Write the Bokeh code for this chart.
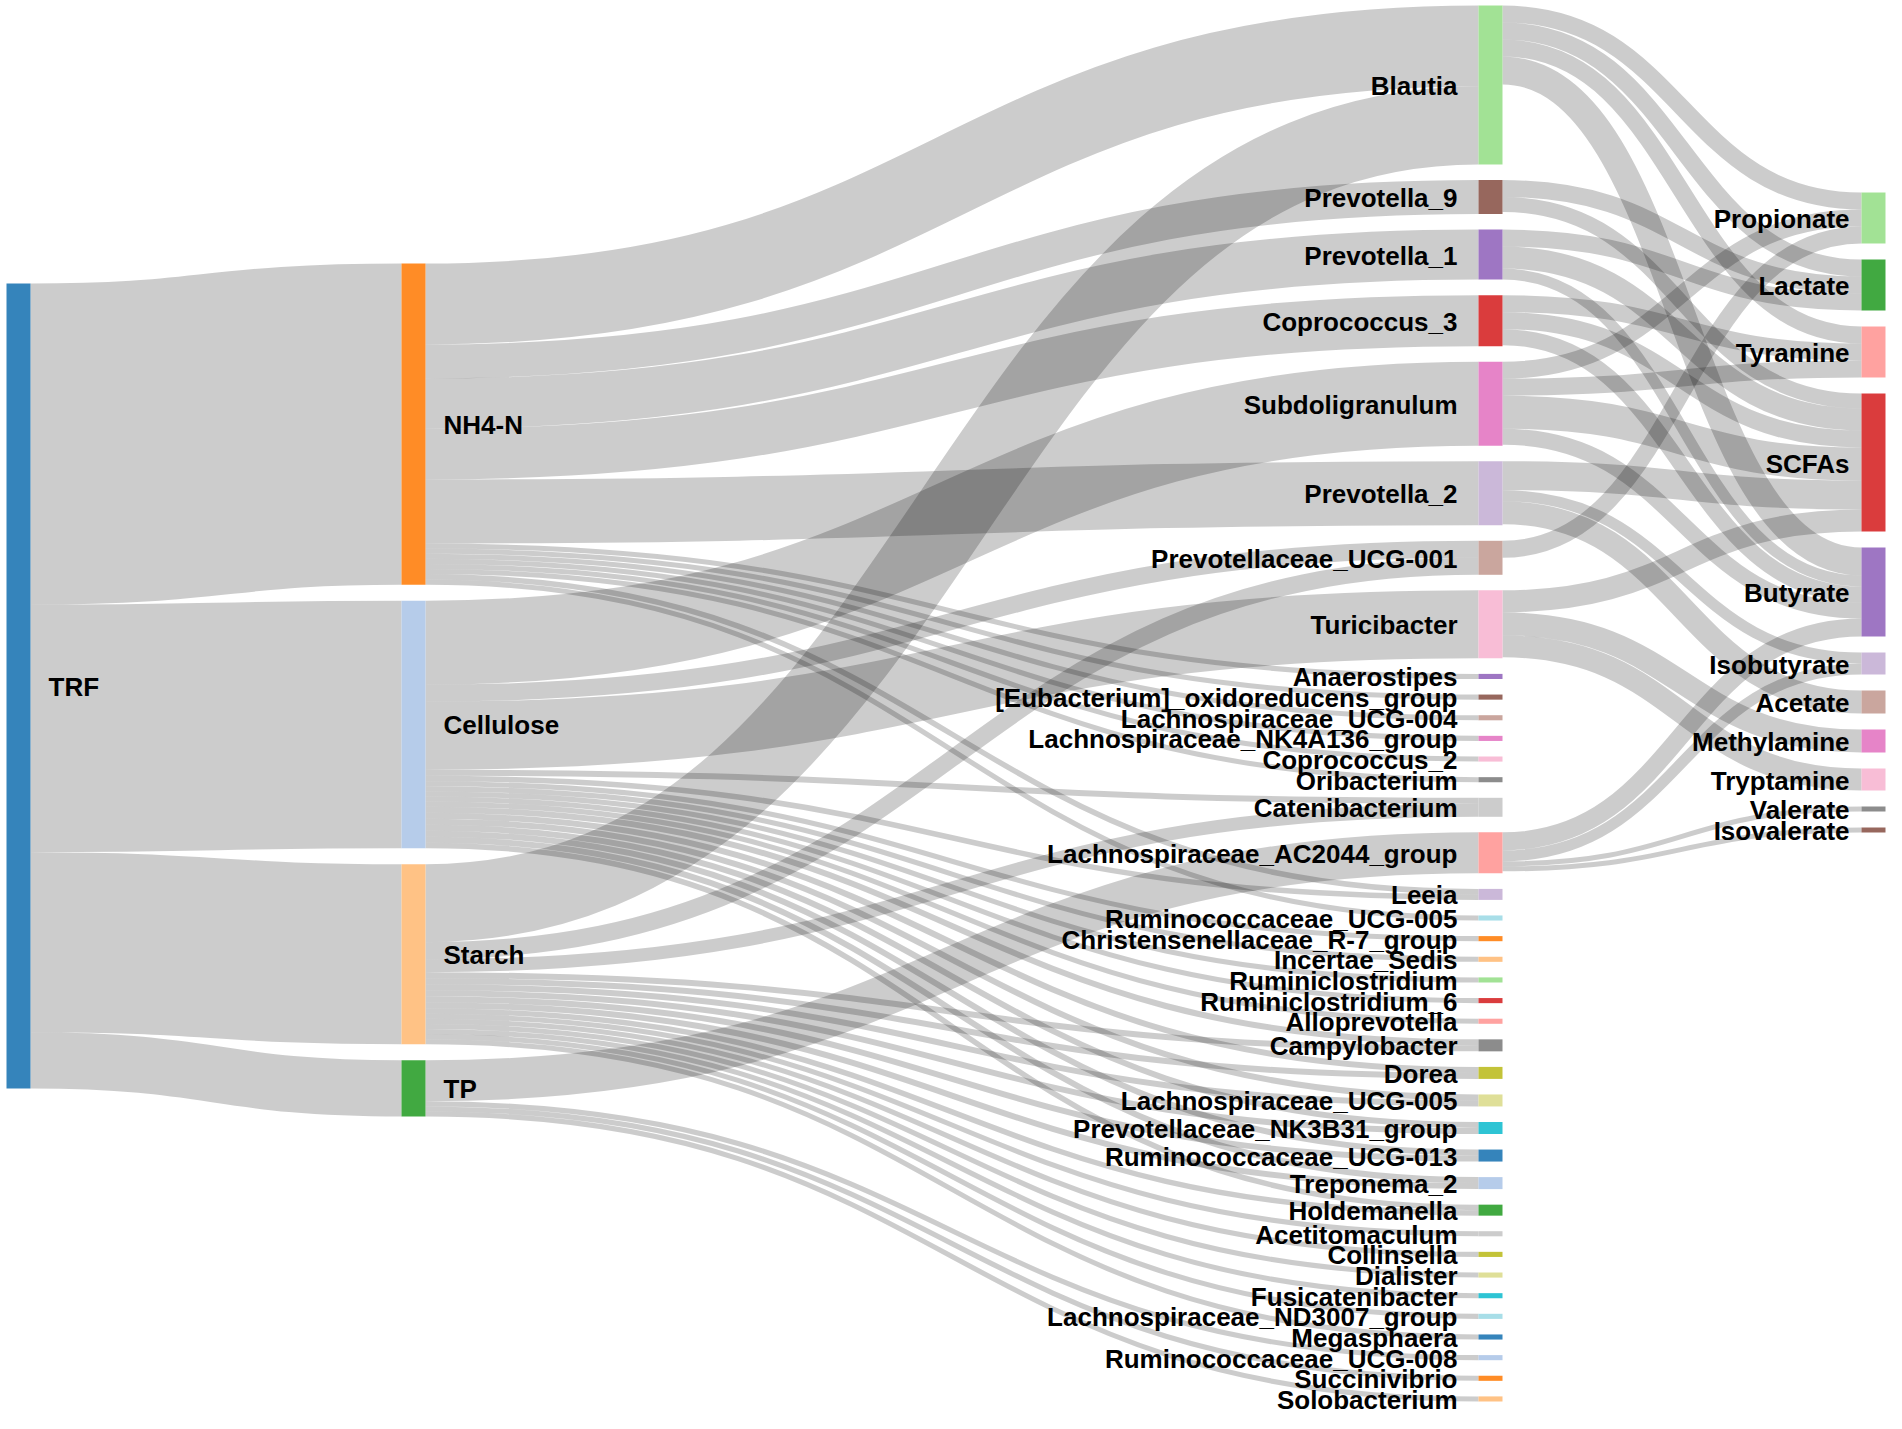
from bokeh.plotting import figure
from bokeh.models import Range1d, ColumnDataSource
from bokeh.embed import file_html
from bokeh.resources import INLINE
from bokeh.core.properties import value

# ---------------- data ----------------
level0 = ["TRF"]
level1 = ["NH4-N", "Cellulose", "Starch", "TP"]
genera = ["Blautia", "Prevotella_9", "Prevotella_1", "Coprococcus_3", "Subdoligranulum",
          "Prevotella_2", "Prevotellaceae_UCG-001", "Turicibacter", "Anaerostipes",
          "[Eubacterium]_oxidoreducens_group", "Lachnospiraceae_UCG-004",
          "Lachnospiraceae_NK4A136_group", "Coprococcus_2", "Oribacterium", "Catenibacterium",
          "Lachnospiraceae_AC2044_group", "Leeia", "Ruminococcaceae_UCG-005",
          "Christensenellaceae_R-7_group", "Incertae_Sedis", "Ruminiclostridium",
          "Ruminiclostridium_6", "Alloprevotella", "Campylobacter", "Dorea",
          "Lachnospiraceae_UCG-005", "Prevotellaceae_NK3B31_group", "Ruminococcaceae_UCG-013",
          "Treponema_2", "Holdemanella", "Acetitomaculum", "Collinsella", "Dialister",
          "Fusicatenibacter", "Lachnospiraceae_ND3007_group", "Megasphaera",
          "Ruminococcaceae_UCG-008", "Succinivibrio", "Solobacterium"]
metabolites = ["Propionate", "Lactate", "Tyramine", "SCFAs", "Butyrate", "Isobutyrate",
               "Acetate", "Methylamine", "Tryptamine", "Valerate", "Isovalerate"]

trf_values = [321.2, 247.5, 180.1, 56.3]

nh4n_targets = ["Blautia", "Prevotella_9", "Prevotella_1", "Coprococcus_3", "Prevotella_2",
                "Anaerostipes", "[Eubacterium]_oxidoreducens_group", "Lachnospiraceae_UCG-004",
                "Lachnospiraceae_NK4A136_group", "Coprococcus_2", "Oribacterium", "Leeia",
                "Ruminococcaceae_UCG-005"]
nh4n_values = [81, 34, 50, 51, 64, 5.1, 5.1, 5.1, 5.1, 5.1, 5.1, 5.5, 5.1]

cellulose_targets = ["Subdoligranulum", "Prevotellaceae_UCG-001", "Turicibacter", "Catenibacterium",
                     "Leeia", "Christensenellaceae_R-7_group", "Incertae_Sedis", "Ruminiclostridium",
                     "Ruminiclostridium_6", "Alloprevotella", "Campylobacter", "Dorea",
                     "Lachnospiraceae_UCG-005", "Prevotellaceae_NK3B31_group",
                     "Ruminococcaceae_UCG-013", "Treponema_2", "Holdemanella"]
cellulose_values = [84, 17, 68, 6, 5.5, 5.1, 5.1, 5.1, 5.1, 5.1, 6, 6, 6, 6, 6, 6, 5.5]

starch_targets = ["Blautia", "Prevotellaceae_UCG-001", "Catenibacterium", "Campylobacter", "Dorea",
                  "Lachnospiraceae_UCG-005", "Prevotellaceae_NK3B31_group", "Ruminococcaceae_UCG-013",
                  "Treponema_2", "Holdemanella", "Acetitomaculum", "Collinsella", "Dialister",
                  "Fusicatenibacter", "Lachnospiraceae_ND3007_group", "Megasphaera"]
starch_values = [78, 17, 13, 6, 6, 6, 6, 6, 6, 5.5, 5.1, 5.1, 5.1, 5.1, 5.1, 5.1]

tp_targets = ["Lachnospiraceae_AC2044_group", "Ruminococcaceae_UCG-008", "Succinivibrio", "Solobacterium"]
tp_values = [41, 5.1, 5.1, 5.1]

gm_source = ["Blautia", "Blautia", "Blautia", "Blautia",
             "Prevotella_9", "Prevotella_9",
             "Prevotella_1", "Prevotella_1", "Prevotella_1",
             "Coprococcus_3", "Coprococcus_3", "Coprococcus_3",
             "Subdoligranulum", "Subdoligranulum", "Subdoligranulum", "Subdoligranulum",
             "Prevotella_2", "Prevotella_2", "Prevotella_2",
             "Prevotellaceae_UCG-001",
             "Turicibacter", "Turicibacter", "Turicibacter",
             "Lachnospiraceae_AC2044_group", "Lachnospiraceae_AC2044_group",
             "Lachnospiraceae_AC2044_group", "Lachnospiraceae_AC2044_group"]
gm_target = ["Propionate", "Lactate", "Tyramine", "Butyrate",
             "Lactate", "SCFAs",
             "Lactate", "SCFAs", "Butyrate",
             "Tyramine", "SCFAs", "Butyrate",
             "Propionate", "Tyramine", "SCFAs", "Butyrate",
             "SCFAs", "Isobutyrate", "Acetate",
             "Propionate",
             "SCFAs", "Methylamine", "Tryptamine",
             "Butyrate", "Isobutyrate", "Valerate", "Isovalerate"]
gm_value = [17, 17, 17, 28,
            17, 15,
            17, 22, 11,
            17, 17, 16,
            17, 17, 33, 16,
            29, 11, 23,
            17,
            22, 23, 22,
            18, 11, 5, 5]

node_colors = {
    "TRF": "#1f77b4", "NH4-N": "#ff7f0e", "Cellulose": "#aec7e8", "Starch": "#ffbb78", "TP": "#2ca02c",
    "Blautia": "#98df8a", "Prevotella_9": "#8c564b", "Prevotella_1": "#9467bd",
    "Coprococcus_3": "#d62728", "Subdoligranulum": "#e377c2", "Prevotella_2": "#c5b0d5",
    "Prevotellaceae_UCG-001": "#c49c94", "Turicibacter": "#f7b6d2", "Anaerostipes": "#9467bd",
    "[Eubacterium]_oxidoreducens_group": "#8c564b", "Lachnospiraceae_UCG-004": "#c49c94",
    "Lachnospiraceae_NK4A136_group": "#e377c2", "Coprococcus_2": "#f7b6d2",
    "Oribacterium": "#7f7f7f", "Catenibacterium": "#c7c7c7",
    "Lachnospiraceae_AC2044_group": "#ff9896", "Leeia": "#c5b0d5",
    "Ruminococcaceae_UCG-005": "#9edae5", "Christensenellaceae_R-7_group": "#ff7f0e",
    "Incertae_Sedis": "#ffbb78", "Ruminiclostridium": "#98df8a", "Ruminiclostridium_6": "#d62728",
    "Alloprevotella": "#ff9896", "Campylobacter": "#7f7f7f", "Dorea": "#bcbd22",
    "Lachnospiraceae_UCG-005": "#dbdb8d", "Prevotellaceae_NK3B31_group": "#17becf",
    "Ruminococcaceae_UCG-013": "#1f77b4", "Treponema_2": "#aec7e8", "Holdemanella": "#2ca02c",
    "Acetitomaculum": "#c7c7c7", "Collinsella": "#bcbd22", "Dialister": "#dbdb8d",
    "Fusicatenibacter": "#17becf", "Lachnospiraceae_ND3007_group": "#9edae5",
    "Megasphaera": "#1f77b4", "Ruminococcaceae_UCG-008": "#aec7e8",
    "Succinivibrio": "#ff7f0e", "Solobacterium": "#ffbb78",
    "Propionate": "#98df8a", "Lactate": "#2ca02c", "Tyramine": "#ff9896", "SCFAs": "#d62728",
    "Butyrate": "#9467bd", "Isobutyrate": "#c5b0d5", "Acetate": "#c49c94",
    "Methylamine": "#e377c2", "Tryptamine": "#f7b6d2", "Valerate": "#7f7f7f",
    "Isovalerate": "#8c564b",
}

# ---------------- layout (Sankey) ----------------
columns = [level0, level1, genera, metabolites]
col_left = [6, 401, 1478, 1861]
col_top = [283, 263, 5, 192]
col_pad = [16, 16, 15.55, 16]
label_gap = [18, 18, 21, 12]
NODE_W = 24
KY = 1.0  # px per value unit

links = []
for t, v in zip(level1, trf_values):
    links.append(("TRF", t, v))
for s, tl, vl in [("NH4-N", nh4n_targets, nh4n_values), ("Cellulose", cellulose_targets, cellulose_values),
                  ("Starch", starch_targets, starch_values), ("TP", tp_targets, tp_values)]:
    for t, v in zip(tl, vl):
        links.append((s, t, v))
for s, t, v in zip(gm_source, gm_target, gm_value):
    links.append((s, t, v))

node_in, node_out = {}, {}
for s, t, v in links:
    node_out[s] = node_out.get(s, 0) + v
    node_in[t] = node_in.get(t, 0) + v
node_val = {n: max(node_in.get(n, 0), node_out.get(n, 0)) for col in columns for n in col}

node_x, node_y, node_h = {}, {}, {}
for ci, col in enumerate(columns):
    y = col_top[ci]
    for n in col:
        node_x[n] = col_left[ci]
        node_y[n] = y
        node_h[n] = node_val[n] * KY
        y += node_h[n] + col_pad[ci]

src_links, tgt_links = {}, {}
for i, (s, t, v) in enumerate(links):
    src_links.setdefault(s, []).append(i)
    tgt_links.setdefault(t, []).append(i)
sy, ty = {}, {}
for n, idx in src_links.items():
    off = 0
    for i in sorted(idx, key=lambda k: node_y[links[k][1]]):
        sy[i] = off
        off += links[i][2] * KY
for n, idx in tgt_links.items():
    off = 0
    for i in sorted(idx, key=lambda k: node_y[links[k][0]]):
        ty[i] = off
        off += links[i][2] * KY

L = dict(x0=[], y0=[], x1=[], y1=[], cx0=[], cy0=[], cx1=[], cy1=[], lw=[])
for i, (s, t, v) in enumerate(links):
    dy = v * KY
    x0 = node_x[s] + NODE_W
    x1 = node_x[t]
    xm = (x0 + x1) / 2
    y0 = node_y[s] + sy[i] + dy / 2
    y1 = node_y[t] + ty[i] + dy / 2
    L["x0"].append(x0); L["y0"].append(y0)
    L["x1"].append(x1); L["y1"].append(y1)
    L["cx0"].append(xm); L["cy0"].append(y0)
    L["cx1"].append(xm); L["cy1"].append(y1)
    L["lw"].append(max(1, dy))

all_nodes = [n for col in columns for n in col]
N = dict(left=[node_x[n] for n in all_nodes],
         right=[node_x[n] + NODE_W for n in all_nodes],
         top=[node_y[n] for n in all_nodes],
         bottom=[node_y[n] + node_h[n] for n in all_nodes],
         color=[node_colors[n] for n in all_nodes])

lab_x, lab_y, lab_t, lab_a = [], [], [], []
for ci, col in enumerate(columns):
    for n in col:
        if ci < 2:
            lab_x.append(node_x[n] + NODE_W + label_gap[ci])
            lab_a.append("left")
        else:
            lab_x.append(node_x[n] - label_gap[ci])
            lab_a.append("right")
        lab_y.append(node_y[n] + node_h[n] / 2 + 1)
        lab_t.append(n)

# ---------------- figure ----------------
p = figure(width=1886, height=1413, x_range=Range1d(0, 1886), y_range=Range1d(1413, 0),
           output_backend="svg", toolbar_location=None, min_border=0)
p.axis.visible = False
p.xgrid.visible = False
p.ygrid.visible = False
p.outline_line_color = None
p.background_fill_color = "white"

p.bezier(x0="x0", y0="y0", x1="x1", y1="y1", cx0="cx0", cy0="cy0", cx1="cx1", cy1="cy1",
         line_width="lw", line_color="black", line_alpha=0.2, line_cap="butt",
         source=ColumnDataSource(L))
p.quad(left="left", right="right", top="top", bottom="bottom", fill_color="color",
       fill_alpha=0.9, line_color=None, source=ColumnDataSource(N))
p.text(x="x", y="y", text="text", text_align="align", text_baseline="middle",
       text_font=value("Liberation Sans"), text_font_style="bold", text_font_size="26px",
       text_color="black",
       source=ColumnDataSource(dict(x=lab_x, y=lab_y, text=lab_t, align=lab_a)))

open("out.html", "w").write(file_html(p, INLINE))
